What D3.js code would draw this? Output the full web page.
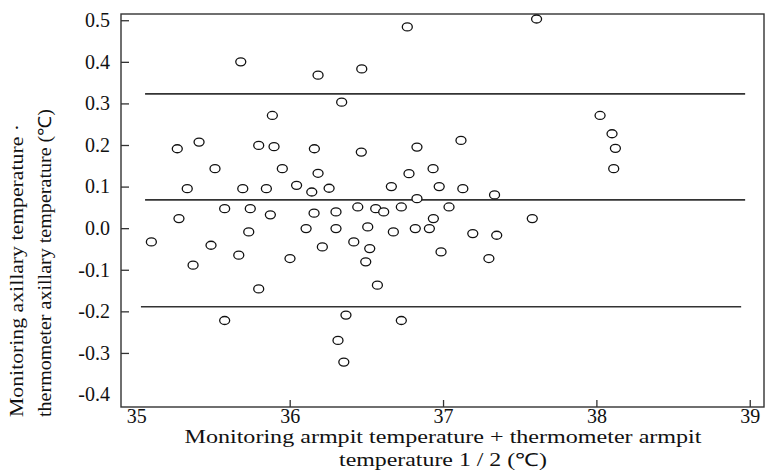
<!DOCTYPE html>
<html>
<head>
<meta charset="utf-8">
<script src="https://cdn.jsdelivr.net/npm/d3@7"></script>
<style>
body { margin: 0; background: #fff; }
svg text { font-family: "Liberation Serif", Tinos, "Times New Roman", Times, serif; fill: #111; }
</style>
</head>
<body>
<script>
// mean of the two readings (x) and their difference (y)
var meanTemp = [35.681, 36.185, 35.887, 35.267, 35.409, 35.798, 35.898, 36.161, 35.513, 35.952,
    36.185, 35.332, 35.694, 35.848, 36.045, 36.144, 36.257, 35.576, 35.743, 35.874,
    36.159, 35.278, 36.107, 35.733, 35.098, 35.487, 35.668, 36.213, 36.002, 35.370,
    35.798, 35.576, 36.663, 36.975, 37.129, 37.336, 36.830, 36.302, 36.444, 36.561,
    36.613, 36.728, 37.039, 36.937, 37.582, 36.302, 36.509, 36.676, 36.819, 36.911,
    37.194, 37.350, 36.418, 36.522, 36.496, 36.987, 37.299, 36.572, 36.367, 36.728,
    36.315, 36.353, 36.767, 37.610, 36.470, 36.339, 36.467, 36.830, 37.117, 36.778,
    36.935, 38.024, 38.102, 38.124, 38.113];
var diffTemp = [0.400, 0.368, 0.271, 0.191, 0.207, 0.199, 0.196, 0.191, 0.143, 0.143,
    0.132, 0.095, 0.095, 0.095, 0.103, 0.087, 0.096, 0.047, 0.047, 0.032,
    0.036, 0.023, -0.001, -0.009, -0.033, -0.041, -0.065, -0.045, -0.073, -0.089,
    -0.146, -0.222, 0.100, 0.100, 0.095, 0.080, 0.071, 0.039, 0.051, 0.047,
    0.039, 0.051, 0.051, 0.023, 0.023, -0.001, 0.003, -0.009, -0.001, -0.001,
    -0.013, -0.017, -0.033, -0.049, -0.081, -0.057, -0.073, -0.137, -0.209, -0.222,
    -0.270, -0.322, 0.484, 0.503, 0.383, 0.303, 0.183, 0.195, 0.211, 0.131,
    0.143, 0.271, 0.227, 0.192, 0.143];

// upper limit, mean difference, lower limit
var limitValues = [0.323, 0.068, -0.189];
var limitFrom = [35.057, 35.057, 35.030];
var limitTo = [38.970, 38.970, 38.944];

var xTicks = [35, 36, 37, 38, 39];
var yTicks = [0.5, 0.4, 0.3, 0.2, 0.1, 0.0, -0.1, -0.2, -0.3, -0.4];

var xTitle = ["Monitoring armpit temperature + thermometer armpit", "temperature 1 / 2 (\u2103)"];
var yTitle = ["Monitoring axillary temperature \u00b7", "thermometer axillary temperature (\u2103)"];

var width = 768, height = 470;

var svg = d3.select("body").append("svg")
    .attr("width", width)
    .attr("height", height);

var x = d3.scaleLinear().domain([34.9, 39.093]).range([121, 764]);
var y = d3.scaleLinear().domain([-0.43, 0.515]).range([407, 14]);

// frame
svg.append("rect")
    .attr("x", x.range()[0])
    .attr("y", y.range()[1])
    .attr("width", x.range()[1] - x.range()[0])
    .attr("height", y.range()[0] - y.range()[1])
    .style("fill", "none")
    .style("stroke", "#333")
    .style("stroke-width", 1.4);

// y axis, ticks point inward
var yAxis = d3.axisLeft(y)
    .tickValues(yTicks)
    .tickSize(-8)
    .tickPadding(11)
    .tickFormat(function(d){ return d.toFixed(1); });
var gy = svg.append("g")
    .attr("transform", "translate(" + x.range()[0] + ",0)")
    .call(yAxis);
gy.select(".domain").remove();
gy.selectAll(".tick line").filter(function(d){ return d === -0.4; }).remove();

// x axis
var xAxis = d3.axisBottom(x)
    .tickValues(xTicks)
    .tickSize(-7)
    .tickPadding(2)
    .tickFormat(d3.format("d"));
var gx = svg.append("g")
    .attr("transform", "translate(0," + y.range()[0] + ")")
    .call(xAxis);
gx.select(".domain").remove();
gx.selectAll(".tick line").filter(function(d){ return d === 35; }).remove();

[gx, gy].forEach(function(g){
    g.attr("font-family", null).attr("font-size", null);
    g.selectAll(".tick line").style("stroke", "#333").style("stroke-width", 1.3);
    g.selectAll(".tick text").style("font-size", "20px").style("fill", "#111");
});

// agreement lines
svg.selectAll("line.limit")
    .data(limitValues)
    .enter().append("line")
    .attr("class", "limit")
    .attr("x1", function(d, i){ return x(limitFrom[i]); })
    .attr("x2", function(d, i){ return x(limitTo[i]); })
    .attr("y1", function(d){ return y(d); })
    .attr("y2", function(d){ return y(d); })
    .style("stroke", "#333")
    .style("stroke-width", 1.6);

// points
svg.selectAll("ellipse")
    .data(meanTemp)
    .enter().append("ellipse")
    .attr("cx", function(d){ return x(d); })
    .attr("cy", function(d, i){ return y(diffTemp[i]); })
    .attr("rx", 5)
    .attr("ry", 4)
    .style("fill", "#fff")
    .style("stroke", "#111")
    .style("stroke-width", 1.3);

// axis titles
svg.selectAll("text.xtitle")
    .data(xTitle)
    .enter().append("text")
    .attr("class", "xtitle")
    .attr("x", 443)
    .attr("y", function(d, i){ return 443 + i * 23; })
    .attr("text-anchor", "middle")
    .attr("textLength", function(d, i){ return i === 0 ? 517 : 208; })
    .attr("lengthAdjust", "spacingAndGlyphs")
    .style("font-size", "18px")
    .text(function(d){ return d; });

svg.selectAll("text.ytitle")
    .data(yTitle)
    .enter().append("text")
    .attr("class", "ytitle")
    .attr("transform", function(d, i){ return "translate(" + (23 + i * 28) + ",417) rotate(-90)"; })
    .attr("text-anchor", "start")
    .attr("textLength", function(d, i){ return i === 0 ? 293 : 308; })
    .attr("lengthAdjust", "spacingAndGlyphs")
    .style("font-size", "18px")
    .text(function(d){ return d; });
</script>
</body>
</html>
